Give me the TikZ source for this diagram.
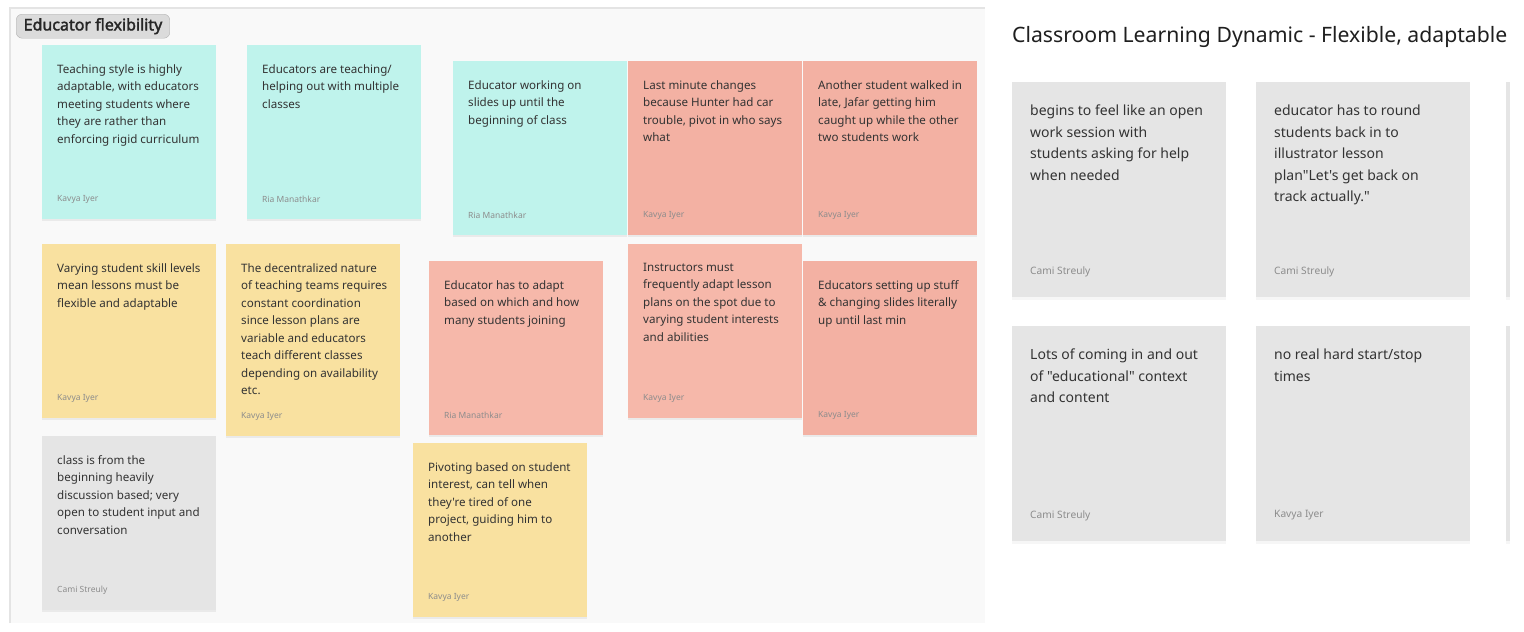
\documentclass[tikz,border=0pt]{standalone}
\usepackage{fontspec}
\setmainfont{Noto Sans}[Ligatures=TeXOff]
\newfontfamily\tagfont{Noto Sans}[Ligatures=TeXOff, FakeBold=2.2]
\usetikzlibrary{shadows}
\definecolor{boardbg}{HTML}{F9F9F9}
\definecolor{boardline}{HTML}{E4E4E4}
\definecolor{mint}{HTML}{BFF3EC}
\definecolor{butter}{HTML}{F9E1A0}
\definecolor{peach}{HTML}{F6B8AA}
\definecolor{peachdark}{HTML}{F3B1A3}
\definecolor{paper}{HTML}{E5E5E5}
\definecolor{ink}{HTML}{333333}
\definecolor{byline}{HTML}{8C8C8C}

\begin{document}
\begin{tikzpicture}[
  x=1pt, y=-1pt,
  note/.style={rectangle, anchor=north west, inner sep=0, minimum width=174, minimum height=174,
    drop shadow={shadow xshift=0pt, shadow yshift=-2pt, opacity=0.12}},
  notetext/.style={anchor=north west, align=left, inner sep=0, text=ink,
    font=\fontsize{11.6}{17.5}\selectfont},
  author/.style={anchor=west, inner sep=0, text=byline, font=\fontsize{8.5}{10}\selectfont},
  card/.style={rectangle, anchor=north west, inner sep=0, fill=paper, minimum width=214, minimum height=215,
    drop shadow={shadow xshift=0pt, shadow yshift=-3pt, opacity=0.07}},
  cardtext/.style={anchor=north west, align=left, inner sep=0, text=ink,
    font=\fontsize{14}{21.5}\selectfont},
  cardauthor/.style={anchor=west, inner sep=0, text=byline, font=\fontsize{10.2}{12}\selectfont}
]
\useasboundingbox[fill=white] (0,0) rectangle (1524,632);

% board
\fill[boardbg] (10,8) rectangle (985,623);
\draw[boardline, line width=1.5] (10,623) -- (10,8) -- (985,8);
\node[anchor=north west, draw=black!30, fill=black!14, rounded corners=6, minimum height=24,
  inner xsep=7.5, inner ysep=0, text=black!85, font=\tagfont\fontsize{16}{18}\selectfont] (tag) at (16,14) {Educator flexibility};

% sticky notes
\node[note, fill=mint] (c1) at (42,45) {};
\node[notetext] at ([shift={(15,19)}]c1.north west) {Teaching style is highly\\adaptable, with educators\\meeting students where\\they are rather than\\enforcing rigid curriculum};
\node[author] at ([shift={(15,-20)}]c1.south west) {Kavya Iyer};

\node[note, fill=mint] (c2) at (247,45) {};
\node[notetext] at ([shift={(15,19)}]c2.north west) {Educators are teaching/\\helping out with multiple\\classes};
\node[author] at ([shift={(15,-20)}]c2.south west) {Ria Manathkar};

\node[note, fill=mint] (c3) at (453,61) {};
\node[notetext] at ([shift={(15,19)}]c3.north west) {Educator working on\\slides up until the\\beginning of class};
\node[author] at ([shift={(15,-20)}]c3.south west) {Ria Manathkar};

\node[note, fill=peachdark] (c4) at (628,61) {};
\node[notetext] at ([shift={(15,19)}]c4.north west) {Last minute changes\\because Hunter had car\\trouble, pivot in who says\\what};
\node[author] at ([shift={(15,-20)}]c4.south west) {Kavya Iyer};

\node[note, fill=peachdark] (c5) at (803,61) {};
\node[notetext] at ([shift={(15,19)}]c5.north west) {Another student walked in\\late, Jafar getting him\\caught up while the other\\two students work};
\node[author] at ([shift={(15,-20)}]c5.south west) {Kavya Iyer};

\node[note, fill=butter] (c6) at (42,244) {};
\node[notetext] at ([shift={(15,19)}]c6.north west) {Varying student skill levels\\mean lessons must be\\flexible and adaptable};
\node[author] at ([shift={(15,-20)}]c6.south west) {Kavya Iyer};

\node[note, fill=butter, minimum height=192] (c7) at (226,244) {};
\node[notetext] at ([shift={(15,19)}]c7.north west) {The decentralized nature\\of teaching teams requires\\constant coordination\\since lesson plans are\\variable and educators\\teach different classes\\depending on availability\\etc.};
\node[author] at ([shift={(15,-20)}]c7.south west) {Kavya Iyer};

\node[note, fill=peach] (c8) at (429,261) {};
\node[notetext] at ([shift={(15,19)}]c8.north west) {Educator has to adapt\\based on which and how\\many students joining};
\node[author] at ([shift={(15,-20)}]c8.south west) {Ria Manathkar};

\node[note, fill=peach] (c9) at (628,244) {};
\node[notetext] at ([shift={(15,19)}]c9.north west) {Instructors must\\frequently adapt lesson\\plans on the spot due to\\varying student interests\\and abilities};
\node[author] at ([shift={(15,-20)}]c9.south west) {Kavya Iyer};

\node[note, fill=peachdark] (c10) at (803,261) {};
\node[notetext] at ([shift={(15,19)}]c10.north west) {Educators setting up stuff\\\& changing slides literally\\up until last min};
\node[author] at ([shift={(15,-20)}]c10.south west) {Kavya Iyer};

\node[note, fill=paper] (c11) at (42,436) {};
\node[notetext] at ([shift={(15,19)}]c11.north west) {class is from the\\beginning heavily\\discussion based; very\\open to student input and\\conversation};
\node[author] at ([shift={(15,-20)}]c11.south west) {Cami Streuly};

\node[note, fill=butter] (c12) at (413,443) {};
\node[notetext] at ([shift={(15,19)}]c12.north west) {Pivoting based on student\\interest, can tell when\\they're tired of one\\project, guiding him to\\another};
\node[author] at ([shift={(15,-20)}]c12.south west) {Kavya Iyer};

% cluster on the right
\node[anchor=west, inner sep=0, text=black!88, font=\fontsize{21.2}{24}\selectfont] (title) at (1012,37) {Classroom Learning Dynamic - Flexible, adaptable};

\node[card] (r1) at (1012,82) {};
\node[cardtext] at ([shift={(18,23)}]r1.north west) {begins to feel like an open\\work session with\\students asking for help\\when needed};
\node[cardauthor] at ([shift={(18,-26)}]r1.south west) {Cami Streuly};

\node[card] (r2) at (1256,82) {};
\node[cardtext] at ([shift={(18,23)}]r2.north west) {educator has to round\\students back in to\\illustrator lesson\\plan"Let's get back on\\track actually."};
\node[cardauthor] at ([shift={(18,-26)}]r2.south west) {Cami Streuly};

\node[card] (r3) at (1012,326) {};
\node[cardtext] at ([shift={(18,23)}]r3.north west) {Lots of coming in and out\\of "educational" context\\and content};
\node[cardauthor] at ([shift={(18,-26)}]r3.south west) {Cami Streuly};

\node[card] (r4) at (1256,326) {};
\node[cardtext] at ([shift={(18,23)}]r4.north west) {no real hard start/stop\\times};
\node[cardauthor] at ([shift={(18,-26)}]r4.south west) {Kavya Iyer};

% cut off at the edge
\node[card, minimum width=4] (r5) at (1506,82) {};
\node[card, minimum width=4] (r6) at (1506,326) {};
\end{tikzpicture}
\end{document}
